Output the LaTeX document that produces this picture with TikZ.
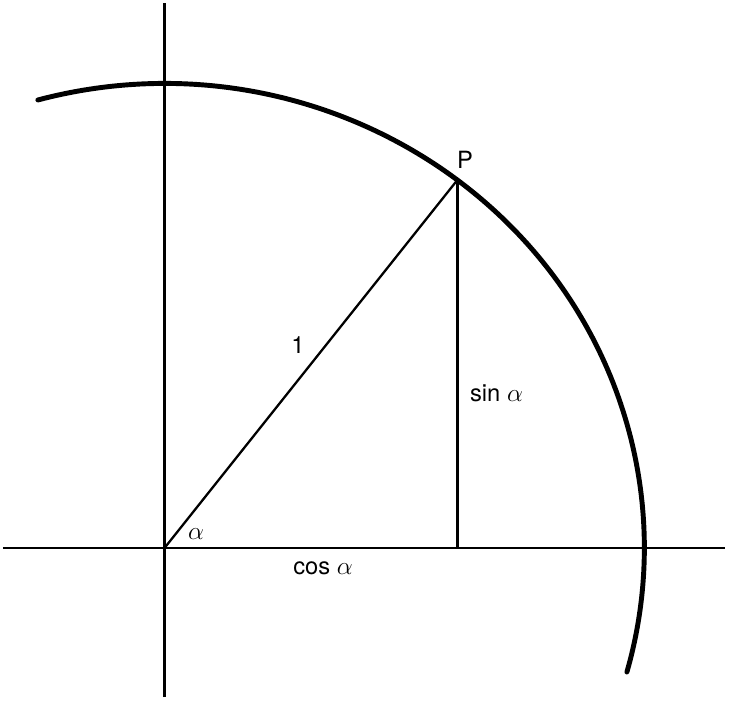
\documentclass[tikz,border=0pt]{standalone}
\usepackage{fontspec}
\setmainfont{TeX Gyre Heros}
\usetikzlibrary{calc}
\tikzset {
    axis line/.style = {line width = 1.3pt},
    leg line/.style = {line width = 1.3pt},
    unit arc/.style = {line width = 2.8pt, line cap = round},
    label text/.style = {inner sep = 0pt, font = \fontsize{13.5}{16}\selectfont}
}

\begin{document}
\begin{tikzpicture}[x = 0.02cm, y = 0.02cm]
        \useasboundingbox (-164.5, -156) rectangle (564.5, 548);
        \coordinate (o) at (0, 0);
        \coordinate (xl) at (-161.5, 0);
        \coordinate (xr) at (560.5, 0);
        \coordinate (yb) at (0, -149);
        \coordinate (yt) at (0, 545);
        \coordinate (p) at ({480*cos(52.4)}, {464.5*sin(52.4)});
        \coordinate (q) at (p |- o);
        \coordinate (s) at ({480*cos(105.3)}, {464.5*sin(105.3)});
        \draw [axis line] (xl) -- (xr);
        \draw [axis line] (yb) -- (yt);
        \draw [leg line] (o) -- (p);
        \draw [leg line] (p) -- (q);
        \draw [unit arc] (s) arc [start angle = 105.3, end angle = -15.5, x radius = 9.6cm, y radius = 9.29cm];
        \node [label text] (lp) at (300.5, 388) {P};
        \node [label text] (lr) at (133.5, 203) {1};
        \node [label text] (ls) at (332, 155) {sin $\alpha$};
        \node [label text] (la) at (31.5, 14) {$\alpha$};
        \node [label text] (lc) at (158.5, -20) {cos $\alpha$};
    \end{tikzpicture}
\end{document}
